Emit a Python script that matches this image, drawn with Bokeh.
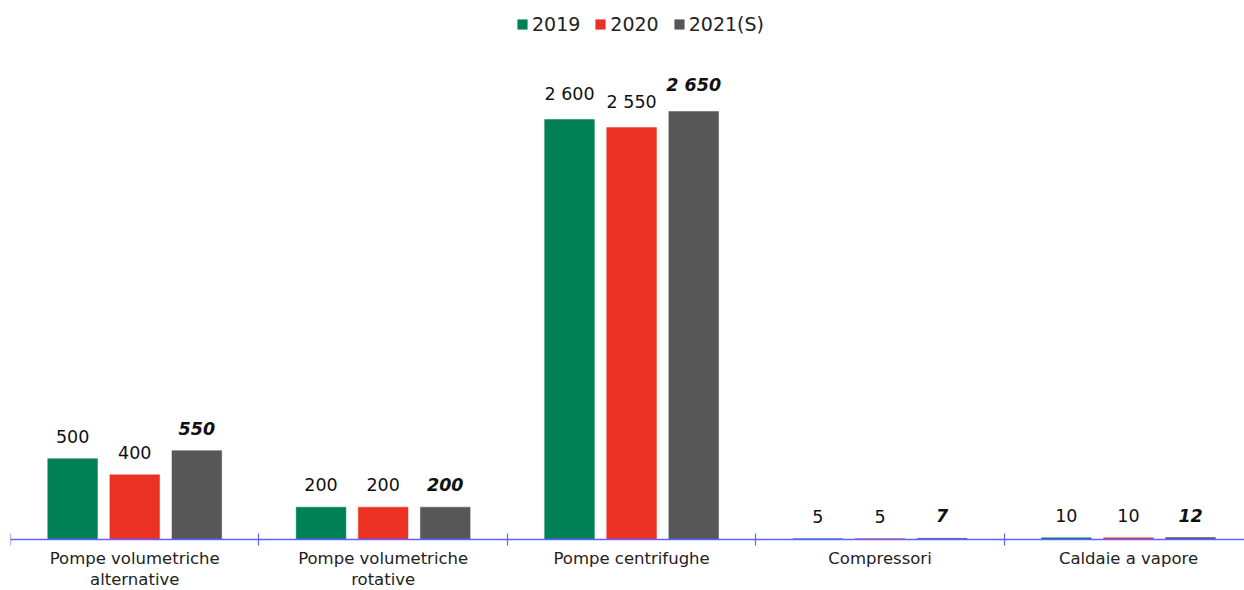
from bokeh.plotting import figure
from bokeh.models import Range1d, FixedTicker, ColumnDataSource, Legend, LegendItem, LinearAxis
from bokeh.core.properties import value
from bokeh.embed import file_html
from bokeh.resources import INLINE

categories = ["Pompe volumetriche\nalternative", "Pompe volumetriche\nrotative",
              "Pompe centrifughe", "Compressori", "Caldaie a vapore"]
series = ["2019", "2020", "2021(S)"]
v2019 = [500, 200, 2600, 5, 10]
v2020 = [400, 200, 2550, 5, 10]
v2021 = [550, 200, 2650, 7, 12]
labels2019 = ["500", "200", "2 600", "5", "10"]
labels2020 = ["400", "200", "2 550", "5", "10"]
labels2021 = ["550", "200", "2 650", "7", "12"]
colors = ["#008055", "#EB3124", "#575757"]

FONT = "DejaVu Sans"

p = figure(width=1244, height=590, output_backend="svg", toolbar_location=None,
           x_range=Range1d(0, 4.967), y_range=Range1d(-316, 3337),
           x_axis_location=None, y_axis_location=None,
           min_border_left=10, min_border_right=0, min_border_top=0, min_border_bottom=0)
p.outline_line_color = None
p.grid.visible = False

ax = LinearAxis(fixed_location=0)
p.add_layout(ax, "below")

offsets = [-0.25, 0.0, 0.25]
vals = [v2019, v2020, v2021]
labs = [labels2019, labels2020, labels2021]
items = []
for k in range(3):
    xs = [i + 0.5 + offsets[k] for i in range(len(categories))]
    src = ColumnDataSource(dict(x=xs, top=vals[k], lab=labs[k]))
    r = p.vbar(x="x", top="top", width=0.2, bottom=0, source=src,
               fill_color=colors[k], line_color=colors[k], line_width=0.5)
    p.text(x="x", y="top", text="lab", source=src, text_align="center",
           text_baseline="bottom", y_offset=-16, text_font=value(FONT),
           text_font_size="17.5px", text_color="#111111",
           text_font_style="bold italic" if k == 2 else "normal")
    items.append(LegendItem(label=series[k], renderers=[r]))

legend = Legend(items=items, orientation="horizontal", location=(506, 555),
                glyph_width=12, glyph_height=12, label_standoff=4, spacing=14,
                label_text_font=FONT, label_text_font_size="19px",
                label_text_color="#222222", background_fill_alpha=0,
                border_line_color=None, margin=0, padding=4)
p.add_layout(legend, "center")

ax.ticker = FixedTicker(ticks=[i + 0.5 for i in range(len(categories))],
                        minor_ticks=[0, 1, 2, 3, 4])
ax.major_label_overrides = {i + 0.5: c for i, c in enumerate(categories)}
ax.axis_line_color = "#6262ff"
ax.axis_line_width = 1.5
ax.major_tick_line_color = None
ax.major_tick_in = 0
ax.major_tick_out = 0
ax.minor_tick_line_color = "#6262ff"
ax.minor_tick_in = 6
ax.minor_tick_out = 6
ax.minor_tick_line_width = 1.2
ax.major_label_standoff = 4
ax.major_label_text_font = FONT
ax.major_label_text_font_size = "16.5px"
ax.major_label_text_line_height = 1.1
ax.major_label_text_color = "#222222"

open("out.html", "w").write(file_html(p, INLINE))
